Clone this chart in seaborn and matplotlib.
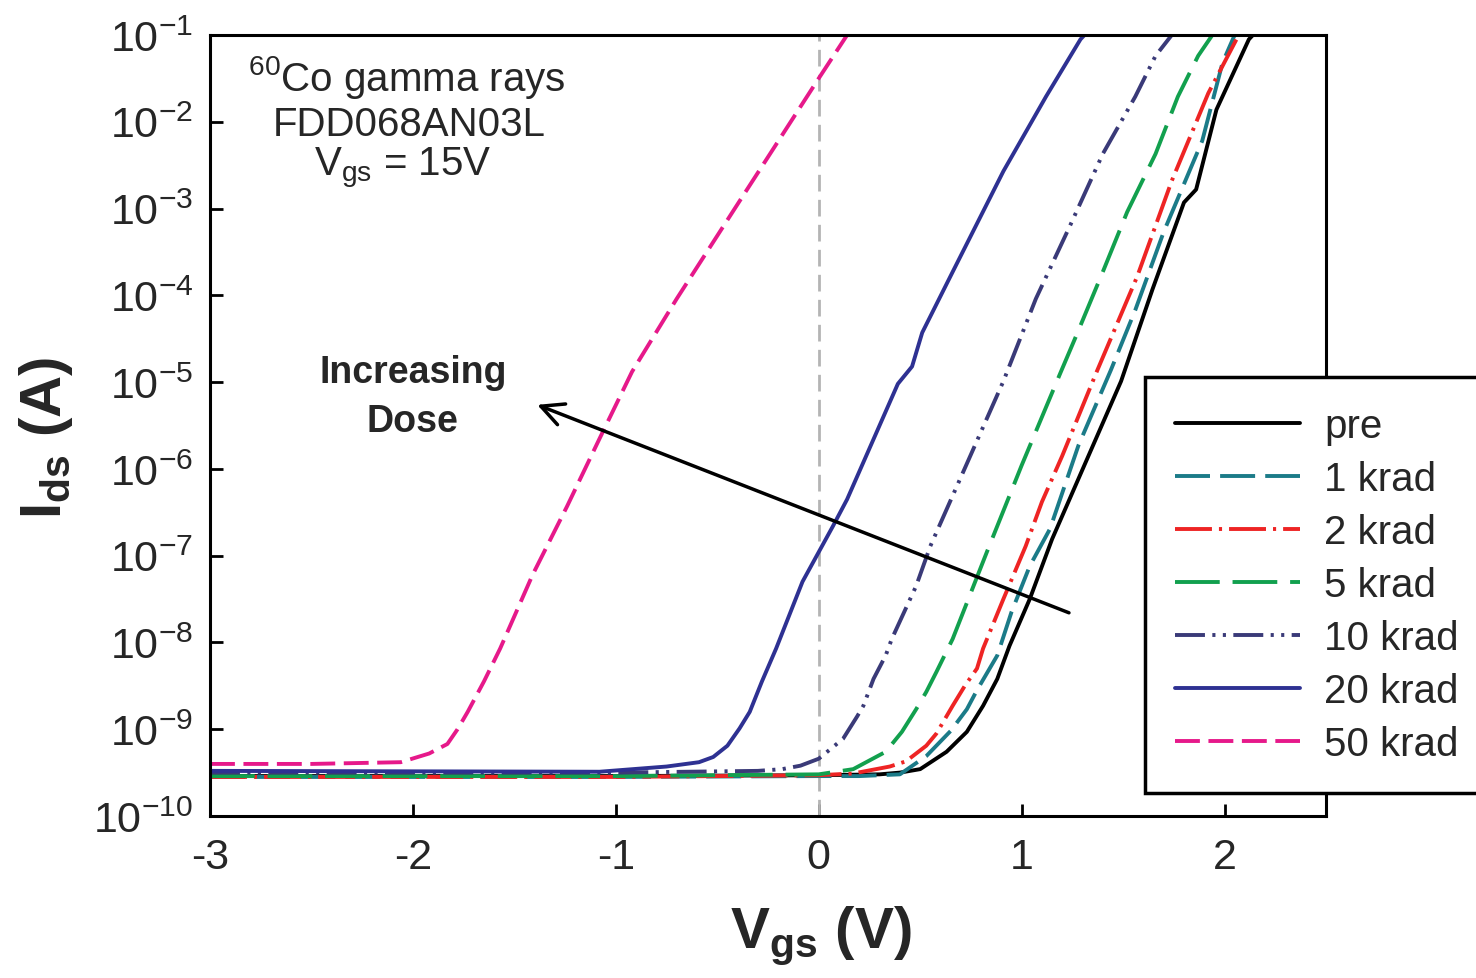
import numpy as np
import pandas as pd
import matplotlib
matplotlib.use("Agg")
import matplotlib.pyplot as plt
from matplotlib.ticker import NullLocator, FixedLocator
import seaborn as sns

doses = ["pre", "1 krad", "2 krad", "5 krad", "10 krad", "20 krad", "50 krad"]

vgs_pre = [-3, -1, 0, 0.3, 0.40, 0.50, 0.63, 0.73, 0.81, 0.88, 0.94, 1.04, 1.15, 1.49, 1.645, 1.80, 1.86, 1.96, 2.12, 2.14]
log_pre = [-9.54, -9.54, -9.53, -9.52, -9.50, -9.46, -9.26, -9.03, -8.73, -8.42, -8.04, -7.50, -6.81, -4.99, -3.93, -2.93, -2.78, -1.86, -1.05, -1.0]

vgs_1k = [-3, -1, 0, 0.2, 0.40, 0.53, 0.65, 0.73, 0.78, 0.88, 0.95, 1.04, 1.14, 1.28, 1.44, 1.56, 1.70, 1.89, 1.99, 2.05]
log_1k = [-9.55, -9.55, -9.54, -9.54, -9.52, -9.31, -9.02, -8.77, -8.55, -8.15, -7.65, -7.12, -6.69, -5.73, -4.86, -4.17, -3.27, -2.22, -1.32, -1.0]

vgs_2k = [-3, -1, 0, 0.17, 0.35, 0.43, 0.53, 0.58, 0.66, 0.72, 0.78, 0.81, 0.91, 1.02, 1.10, 1.20, 1.37, 1.57, 1.74, 1.92, 2.07]
log_2k = [-9.55, -9.55, -9.53, -9.51, -9.43, -9.37, -9.19, -9.05, -8.73, -8.50, -8.30, -8.07, -7.50, -6.89, -6.38, -5.85, -4.88, -3.78, -2.68, -1.67, -1.0]

vgs_5k = [-3, -1, 0, 0.17, 0.33, 0.41, 0.48, 0.53, 0.58, 0.66, 0.83, 1.00, 1.19, 1.27, 1.40, 1.52, 1.66, 1.77, 1.87, 1.94]
log_5k = [-9.54, -9.54, -9.52, -9.46, -9.26, -9.03, -8.77, -8.57, -8.34, -7.96, -6.95, -5.96, -4.90, -4.46, -3.73, -3.04, -2.37, -1.71, -1.24, -1.0]

vgs_10k = [-3, -1, -0.3, -0.18, -0.09, 0, 0.12, 0.19, 0.22, 0.27, 0.33, 0.36, 0.48, 0.55, 0.91, 1.07, 1.24, 1.40, 1.56, 1.66, 1.74]
log_10k = [-9.50, -9.50, -9.48, -9.46, -9.42, -9.34, -9.11, -8.85, -8.73, -8.42, -8.15, -7.96, -7.35, -6.89, -4.99, -4.04, -3.19, -2.37, -1.71, -1.24, -1.0]

vgs_20k = [-3, -1.08, -0.75, -0.59, -0.52, -0.45, -0.39, -0.34, -0.28, -0.21, -0.08, 0.07, 0.14, 0.39, 0.46, 0.51, 0.66, 0.91, 1.12, 1.29, 1.31]
log_20k = [-9.48, -9.49, -9.43, -9.38, -9.32, -9.19, -8.99, -8.80, -8.45, -8.07, -7.30, -6.66, -6.35, -5.02, -4.82, -4.43, -3.73, -2.57, -1.71, -1.05, -1.0]

vgs_50k = [-3, -2.5, -2.06, -1.92, -1.83, -1.78, -1.73, -1.65, -1.57, -1.41, -1.24, -1.08, -0.92, -0.70, -0.40, 0, 0.14]
log_50k = [-9.40, -9.40, -9.38, -9.28, -9.17, -9.00, -8.80, -8.45, -8.07, -7.22, -6.43, -5.65, -4.88, -4.04, -2.95, -1.50, -1.0]

colors = ["#000000", "#1b7b88", "#ee2424", "#12a04e", "#3a3a78", "#2e3192", "#e6198a"]
dash_styles = ["", (9, 2.6), (9.5, 1.8, 0.8, 1.8), (11.5, 3.3), (7.7, 1.9, 0.8, 1.9, 0.8, 1.9), "", (6.4, 2.2)]

series = [(vgs_pre, log_pre), (vgs_1k, log_1k), (vgs_2k, log_2k), (vgs_5k, log_5k),
          (vgs_10k, log_10k), (vgs_20k, log_20k), (vgs_50k, log_50k)]

frames = []
for dose, (v, l) in zip(doses, series):
    frames.append(pd.DataFrame({"Vgs": v, "Ids": 10.0 ** np.array(l), "dose": dose}))
df = pd.concat(frames, ignore_index=True)

sns.set_style("ticks")
plt.rcParams["font.family"] = ["Liberation Sans", "DejaVu Sans"]
plt.rcParams["mathtext.fontset"] = "custom"
plt.rcParams["mathtext.rm"] = "Liberation Sans"
plt.rcParams["mathtext.it"] = "Liberation Sans"
plt.rcParams["mathtext.bf"] = "Liberation Sans:bold"
plt.rcParams["axes.unicode_minus"] = False

fig = plt.figure(figsize=(14.76, 9.79), dpi=100)
ax = fig.add_axes([210 / 1476, 1 - 817 / 979, 1116 / 1476, 781 / 979])

ax.axvline(0, color="#b4b4b4", lw=2, dashes=(6, 3), zorder=1)

sns.lineplot(data=df, x="Vgs", y="Ids", hue="dose", style="dose",
             hue_order=doses, style_order=doses,
             palette=dict(zip(doses, colors)), dashes=dict(zip(doses, dash_styles)),
             sort=False, estimator=None, lw=2.8, ax=ax)

ax.set_yscale("log")
ax.set_xlim(-3, 2.5)
ax.set_ylim(1e-10, 1e-1)
ax.xaxis.set_major_locator(FixedLocator([-3, -2, -1, 0, 1, 2]))
ax.yaxis.set_major_locator(FixedLocator([10.0 ** k for k in range(-10, 0)]))
ax.yaxis.set_minor_locator(NullLocator())
ax.tick_params(direction="in", length=9, width=2, labelsize=31, color="black")
ax.tick_params(axis="x", pad=15)
ax.tick_params(axis="y", pad=12)
for s in ax.spines.values():
    s.set_linewidth(2.2)
    s.set_color("black")

ax.set_xlabel(r"$\mathbf{V_{gs}}$ (V)", fontsize=42, fontweight="bold")
ax.set_ylabel(r"$\mathbf{I_{ds}}$ (A)", fontsize=42, fontweight="bold")
ax.xaxis.set_label_coords(0.547, -0.112)
ax.yaxis.set_label_coords(-0.121, 0.485)

ax.text(-2.03, 10 ** -1.48, r"$^{60}$Co gamma rays", fontsize=29, ha="center", va="center")
ax.text(-2.02, 10 ** -2.02, "FDD068AN03L", fontsize=29, ha="center", va="center")
ax.text(-2.05, 10 ** -2.52, r"V$_{\mathrm{gs}}$ = 15V", fontsize=29, ha="center", va="center")

ax.annotate("", xy=(-1.40, 10 ** -5.25), xytext=(1.246, 10 ** -7.67),
            arrowprops=dict(arrowstyle="->", color="black", lw=2.5, mutation_scale=40))
ax.text(-2.0, 10 ** -5.165, "Increasing\nDose", fontsize=27, fontweight="bold",
        ha="center", va="center", linespacing=1.45)

handles, labels = ax.get_legend_handles_labels()
ax.legend(handles, labels, loc="upper left",
          bbox_to_anchor=(1145 / 1476, 1 - 378 / 979), bbox_transform=fig.transFigure,
          fontsize=29, frameon=True, fancybox=False, framealpha=1, edgecolor="black",
          handlelength=3.1, handletextpad=0.6, labelspacing=0.37, borderpad=0.75,
          borderaxespad=0)
ax.get_legend().get_frame().set_linewidth(2.5)

fig.savefig("out.png", dpi=100)
